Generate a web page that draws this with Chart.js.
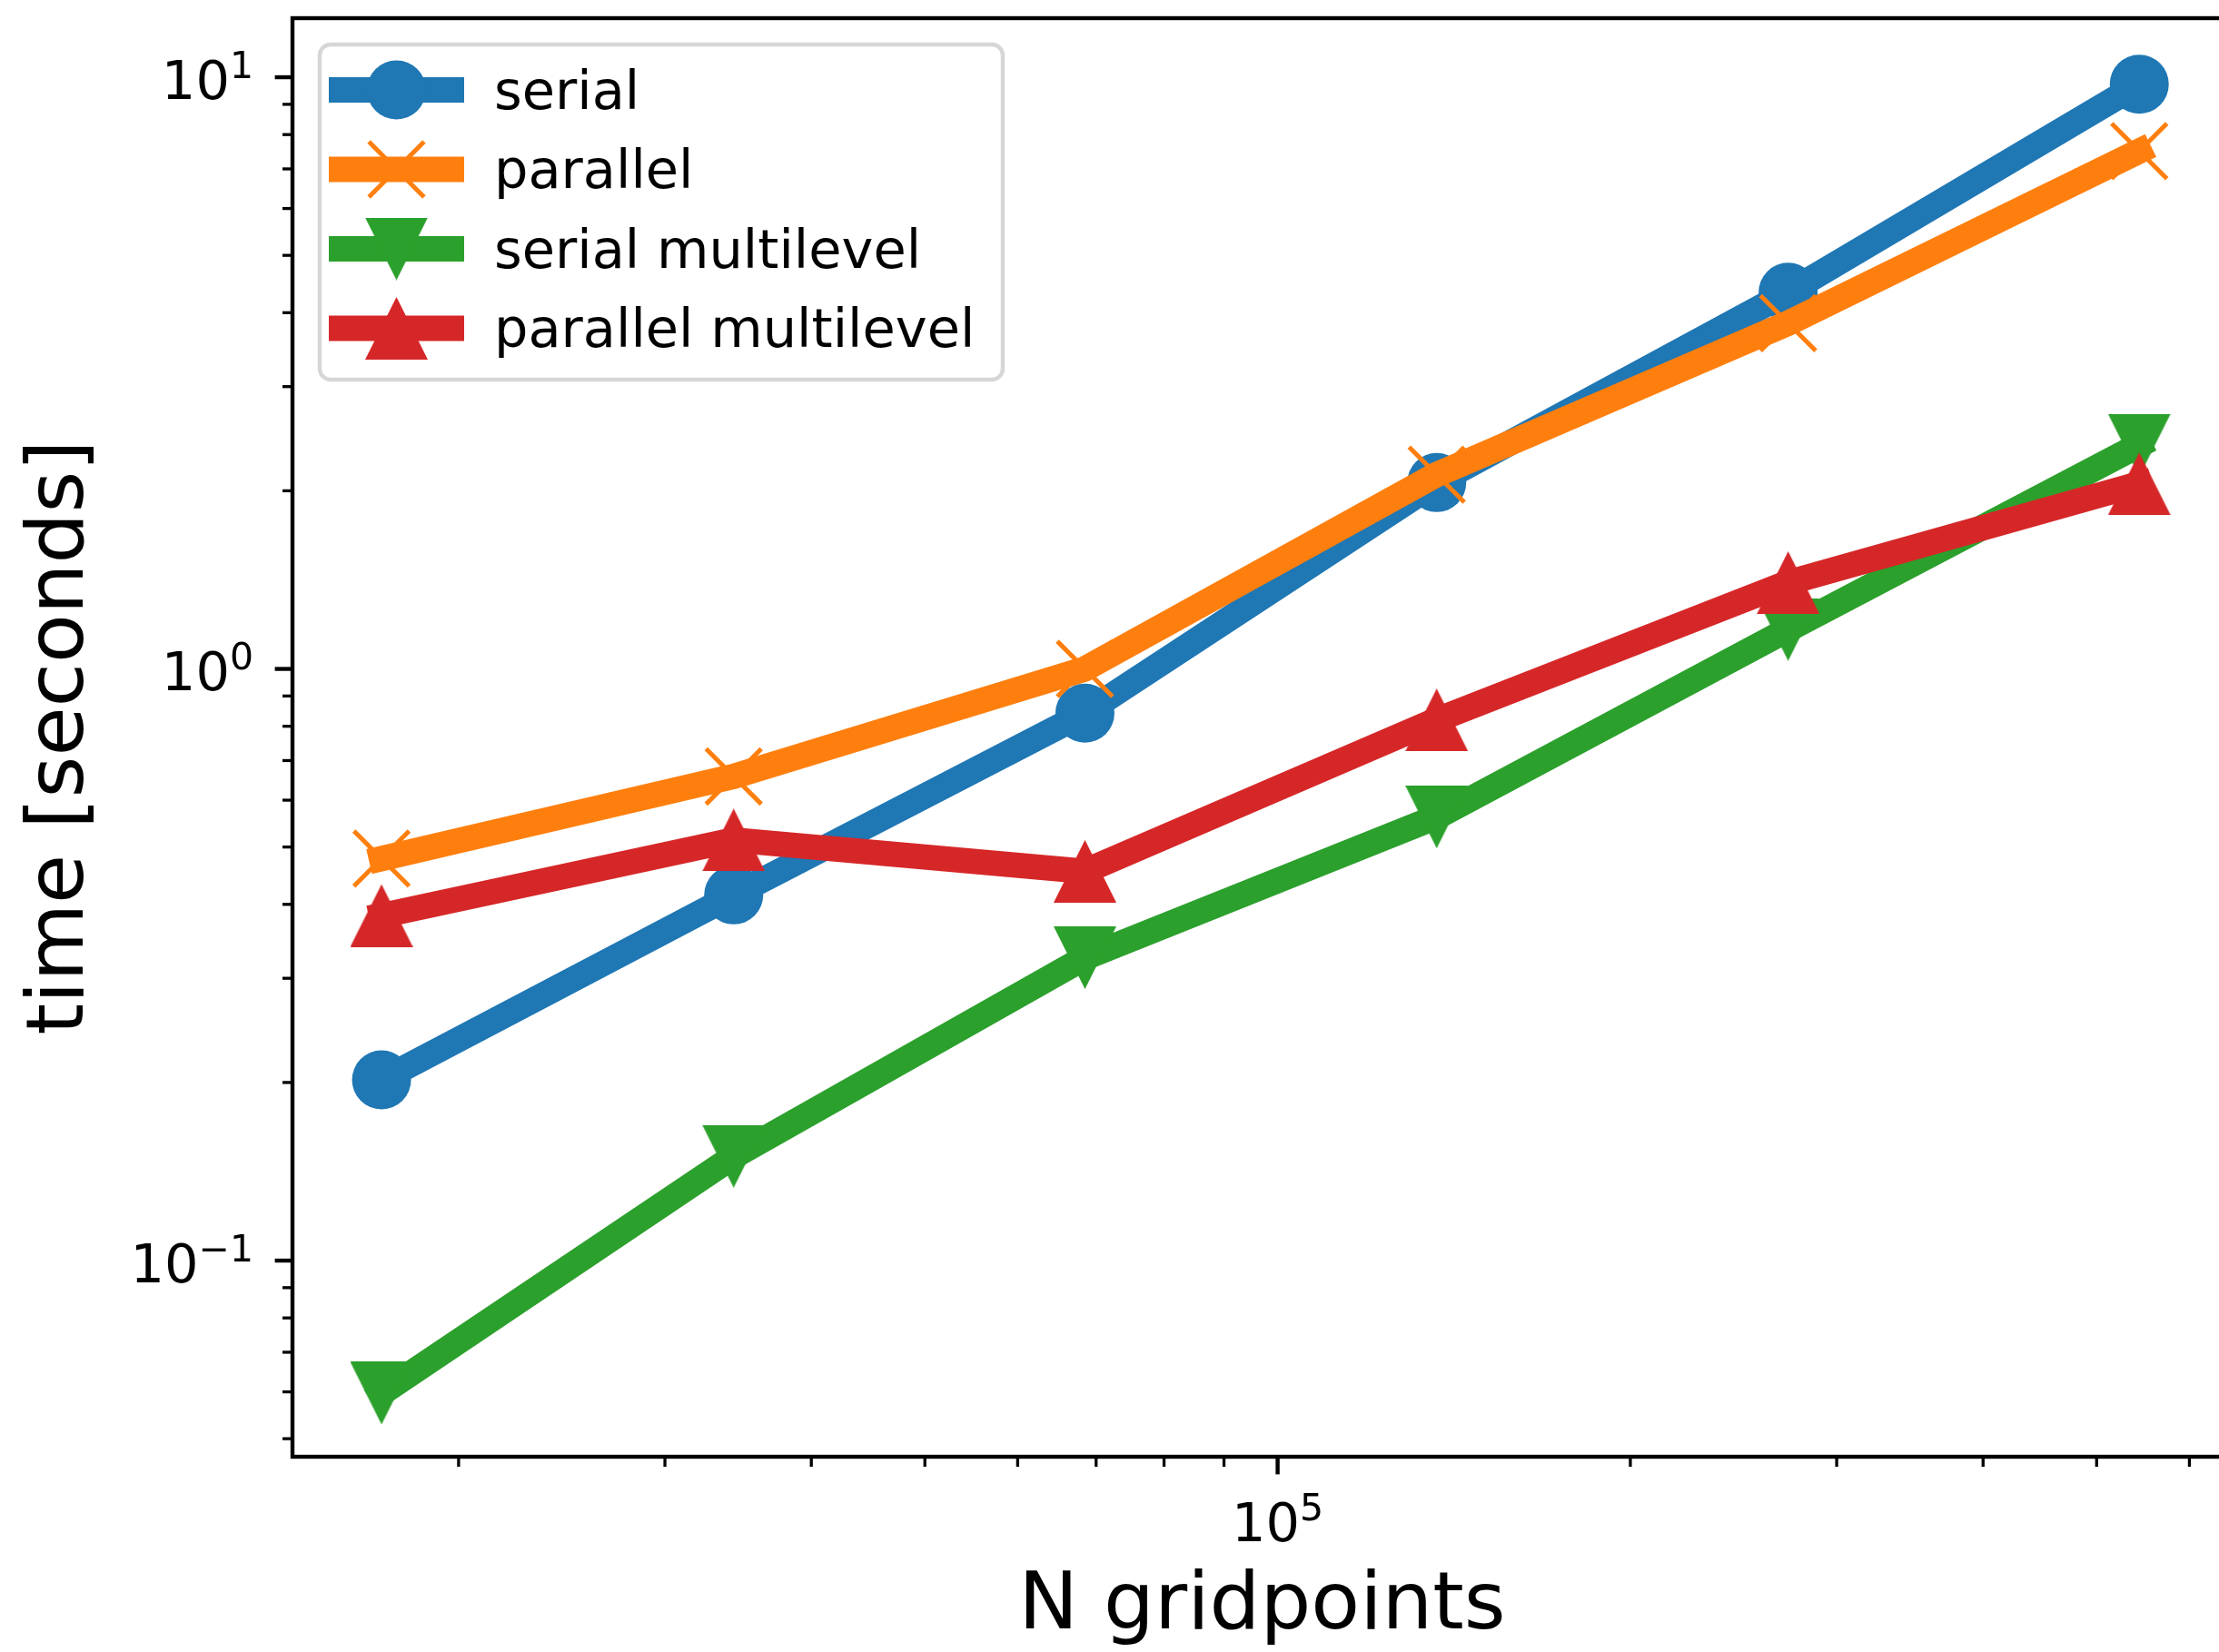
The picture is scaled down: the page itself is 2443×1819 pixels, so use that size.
<!DOCTYPE html>
<html>
<head>
<meta charset="utf-8">
<title>time vs N gridpoints</title>
<script src="https://cdn.jsdelivr.net/npm/chart.js@4/dist/chart.umd.min.js"></script>
<style>
  html, body { margin: 0; padding: 0; background: #fff; overflow: hidden; }
  #wrap { width: 2443px; height: 1819px; overflow: hidden; }
  canvas { display: block; }
</style>
</head>
<body>
<div id="wrap"><canvas id="timing" width="2458" height="1819" style="width:2458px;height:1819px"></canvas></div>
<script>
// values (log-log)
const gridpoints = [17190, 34340, 68480, 136700, 272700, 543700];
const seriesNames = ['serial', 'parallel', 'serial multilevel', 'parallel multilevel'];
const serialTimes = [0.202, 0.415, 0.842, 2.065, 4.33, 9.73];
const parallelTimes = [0.478, 0.658, 1.0, 2.13, 3.84, 7.50];
const serialMultilevelTimes = [0.0597, 0.150, 0.325, 0.562, 1.166, 2.39];
const parallelMultilevelTimes = [0.383, 0.514, 0.455, 0.820, 1.399, 2.055];

// axis ticks (major labels are 10^exponent)
const xTickValues = [2e4, 3e4, 4e4, 5e4, 6e4, 7e4, 8e4, 9e4, 1e5, 2e5, 3e5, 4e5, 5e5, 6e5];
const xMajorValues = [1e5];
const xMajorExponents = ['5'];
const yTickValues = [0.05, 0.06, 0.07, 0.08, 0.09, 0.1, 0.2, 0.3, 0.4, 0.5, 0.6, 0.7, 0.8, 0.9,
  1, 2, 3, 4, 5, 6, 7, 8, 9, 10];
const yMajorValues = [0.1, 1, 10];
const yMajorExponents = ['\u22121', '0', '1'];

const colors = ['#1f77b4', '#ff7f0e', '#2ca02c', '#d62728'];
const FONT = 'DejaVu Sans';

// marker images for the two triangle styles
function triangleImage(color, down) {
  const c = document.createElement('canvas');
  c.width = 69; c.height = 69;
  const g = c.getContext('2d');
  g.fillStyle = color;
  g.beginPath();
  if (down) { g.moveTo(0, 0); g.lineTo(69, 0); g.lineTo(34.5, 69); }
  else { g.moveTo(34.5, 0); g.lineTo(69, 69); g.lineTo(0, 69); }
  g.closePath();
  g.fill();
  return c;
}
const triDown = triangleImage(colors[2], true);
const triUp = triangleImage(colors[3], false);

const markerStyles = [
  { pointStyle: 'circle', radius: 32.5, borderWidth: 0 },
  { pointStyle: 'crossRot', radius: 43, borderWidth: 5 },
  { pointStyle: triDown, radius: 35, borderWidth: 0 },
  { pointStyle: triUp, radius: 35, borderWidth: 0 }
];

const seriesValues = [serialTimes, parallelTimes, serialMultilevelTimes, parallelMultilevelTimes];

function makeDataset(i) {
  return {
    label: seriesNames[i],
    data: gridpoints.map((x, k) => ({ x: x, y: seriesValues[i][k] })),
    borderColor: colors[i],
    backgroundColor: colors[i],
    borderWidth: 28,
    borderCapStyle: 'square',
    borderJoinStyle: 'round',
    tension: 0,
    pointStyle: markerStyles[i].pointStyle,
    pointRadius: markerStyles[i].radius,
    pointBorderWidth: markerStyles[i].borderWidth,
    pointBorderColor: colors[i],
    pointBackgroundColor: colors[i],
    order: 4 - i
  };
}

function drawMarker(ctx, i, x, y) {
  const m = markerStyles[i];
  ctx.save();
  ctx.fillStyle = colors[i];
  ctx.strokeStyle = colors[i];
  if (m.pointStyle === 'circle') {
    ctx.beginPath(); ctx.arc(x, y, m.radius, 0, Math.PI * 2); ctx.fill();
  } else if (m.pointStyle === 'crossRot') {
    const d = m.radius * Math.SQRT1_2;
    ctx.lineWidth = m.borderWidth;
    ctx.beginPath();
    ctx.moveTo(x - d, y - d); ctx.lineTo(x + d, y + d);
    ctx.moveTo(x - d, y + d); ctx.lineTo(x + d, y - d);
    ctx.stroke();
  } else {
    const img = m.pointStyle;
    ctx.drawImage(img, x - img.width / 2, y - img.height / 2);
  }
  ctx.restore();
}

// "10" with a raised exponent, like matplotlib mathtext
const BASE_SIZE = 59, EXP_SIZE = 41, EXP_RAISE = 23;
function powerLabel(ctx, exp, x, baseline, align) {
  ctx.font = BASE_SIZE + 'px "' + FONT + '"';
  const wBase = ctx.measureText('10').width;
  ctx.font = EXP_SIZE + 'px "' + FONT + '"';
  const wExp = ctx.measureText(exp).width;
  const total = wBase + wExp;
  let left = x;
  if (align === 'right') left = x - total;
  else if (align === 'center') left = x - total / 2;
  ctx.textAlign = 'left';
  ctx.textBaseline = 'alphabetic';
  ctx.font = BASE_SIZE + 'px "' + FONT + '"';
  ctx.fillText('10', left, baseline);
  ctx.font = EXP_SIZE + 'px "' + FONT + '"';
  ctx.fillText(exp, left + wBase, baseline - EXP_RAISE);
}

// frame, major/minor tick marks and tick labels, matplotlib style
const axesDecor = {
  id: 'axesDecor',
  afterDatasetsDraw(chart) {
    const { ctx, chartArea: a, scales: { x, y } } = chart;
    ctx.save();
    ctx.strokeStyle = '#000';
    ctx.fillStyle = '#000';
    xTickValues.forEach(v => {
      const px = x.getPixelForValue(v);
      const k = xMajorValues.indexOf(v);
      ctx.lineWidth = k >= 0 ? 4.4 : 3.3;
      ctx.beginPath();
      ctx.moveTo(px, a.bottom);
      ctx.lineTo(px, a.bottom + (k >= 0 ? 19.4 : 11));
      ctx.stroke();
      if (k >= 0) powerLabel(ctx, xMajorExponents[k], px, a.bottom + 93, 'center');
    });
    yTickValues.forEach(v => {
      const py = y.getPixelForValue(v);
      const k = yMajorValues.indexOf(v);
      ctx.lineWidth = k >= 0 ? 4.4 : 3.3;
      ctx.beginPath();
      ctx.moveTo(a.left, py);
      ctx.lineTo(a.left - (k >= 0 ? 19.4 : 11), py);
      ctx.stroke();
      if (k >= 0) powerLabel(ctx, yMajorExponents[k], a.left - 43, py + 23.5, 'right');
    });
    ctx.lineWidth = 4.4;
    ctx.lineJoin = 'miter';
    ctx.strokeRect(a.left, a.top, a.right - a.left, a.bottom - a.top);
    ctx.restore();
  }
};

// legend box in the upper left, line sample with marker on it
const lineLegend = {
  id: 'lineLegend',
  afterDraw(chart) {
    const ctx = chart.ctx;
    const box = { x: 352, y: 49, w: 752, h: 369, r: 12 };
    ctx.save();
    ctx.beginPath();
    ctx.roundRect(box.x, box.y, box.w, box.h, box.r);
    ctx.fillStyle = 'rgba(255,255,255,0.8)';
    ctx.fill();
    ctx.lineWidth = 4.4;
    ctx.strokeStyle = 'rgba(204,204,204,0.8)';
    ctx.stroke();
    ctx.font = '59px "' + FONT + '"';
    ctx.textBaseline = 'alphabetic';
    ctx.textAlign = 'left';
    chart.data.datasets.forEach((ds, i) => {
      const cy = 99 + i * 87.5;
      ctx.strokeStyle = colors[i];
      ctx.lineWidth = 28;
      ctx.lineCap = 'butt';
      ctx.beginPath();
      ctx.moveTo(362, cy);
      ctx.lineTo(511, cy);
      ctx.stroke();
      drawMarker(ctx, i, 436.5, cy);
      ctx.fillStyle = '#000';
      ctx.fillText(ds.label, 544, cy + 20.5);
    });
    ctx.restore();
  }
};

new Chart(document.getElementById('timing'), {
  type: 'line',
  data: { datasets: [0, 1, 2, 3].map(makeDataset) },
  options: {
    responsive: false,
    devicePixelRatio: 1,
    animation: false,
    events: [],
    layout: { autoPadding: false, padding: { top: 20, right: 1, bottom: 0, left: 0 } },
    plugins: { legend: { display: false }, tooltip: { enabled: false } },
    scales: {
      x: {
        type: 'logarithmic',
        min: 14430,
        max: 652000,
        afterBuildTicks: s => { s.ticks = xTickValues.map(v => ({ value: v })); },
        afterFit: s => { s.height = 215; s.paddingLeft = 0; s.paddingRight = 0; },
        grid: { display: false, drawTicks: false },
        border: { display: false },
        ticks: { display: false },
        title: { display: true, text: 'N gridpoints', color: '#000', font: { family: FONT, size: 88, lineHeight: 1.1 }, padding: { top: 0, bottom: 0 } }
      },
      y: {
        type: 'logarithmic',
        min: 0.04661,
        max: 12.585,
        afterBuildTicks: s => { s.ticks = yTickValues.map(v => ({ value: v })); },
        afterFit: s => { s.width = 322; s.paddingTop = 0; s.paddingBottom = 0; },
        grid: { display: false, drawTicks: false },
        border: { display: false },
        ticks: { display: false },
        title: { display: true, text: 'time [seconds]', color: '#000', font: { family: FONT, size: 88 }, padding: { top: 15, bottom: 0 } }
      }
    }
  },
  plugins: [axesDecor, lineLegend]
});
</script>
</body>
</html>
